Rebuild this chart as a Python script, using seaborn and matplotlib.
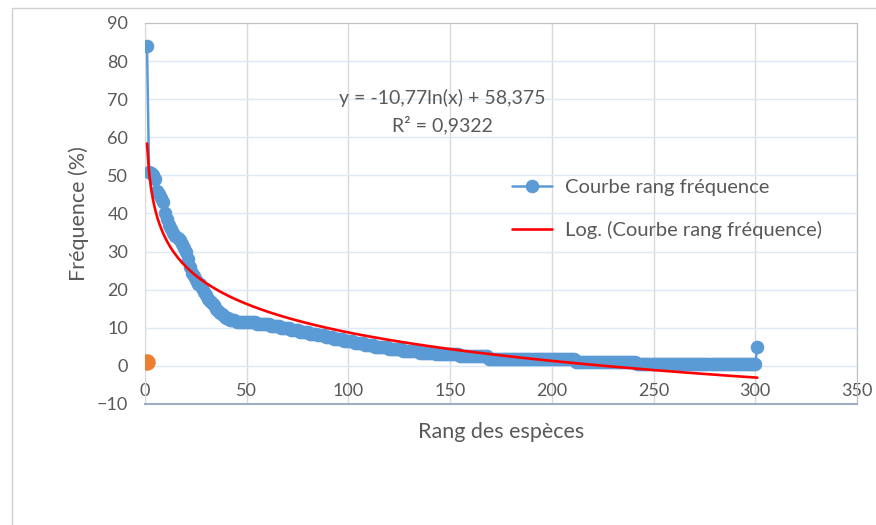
import numpy as np
import pandas as pd
import seaborn as sns
import matplotlib.pyplot as plt
from matplotlib.patches import Rectangle

# Frequency levels (run-length: value, number of species)
freq_levels = [84, 51, 50.5, 50, 49, 46, 45, 44, 43, 40,
               38.5, 37, 36, 35, 34, 33.5, 33, 32, 31, 30,
               28, 26, 24.5, 23.5, 22.5, 21.5, 20.5, 19.5, 18.5, 17.5,
               17, 16.5, 16, 15, 14.5, 14, 13.5, 13, 12.5, 12,
               11.5, 11, 10.5, 10, 9.5, 9, 8.5, 8, 7.5, 7,
               6.5, 6, 5.5, 5, 4.5, 4, 3.5, 3, 2.5, 1.8,
               1.1, 0.6, 5]
freq_counts = [1, 1, 1, 1, 1, 1, 1, 1, 1, 1,
               1, 1, 1, 1, 1, 1, 1, 1, 1, 1,
               1, 1, 1, 1, 1, 2, 1, 1, 1, 1,
               1, 1, 1, 1, 1, 1, 1, 1, 2, 3,
               10, 7, 5, 5, 4, 5, 4, 4, 4, 5,
               5, 5, 5, 7, 7, 8, 8, 12, 14, 43,
               30, 59, 1]

# second series: single orange point
extra_x = [1]
extra_y = [1]

# logarithmic trendline coefficients (as shown on the chart)
trend_a = -10.77
trend_b = 58.375
eq_text = "y = -10,77ln(x) + 58,375"
r2_text = "R² = 0,9322"

freqs = np.repeat(freq_levels, freq_counts)
df = pd.DataFrame({"rang": np.arange(1, len(freqs) + 1), "freq": freqs})
df["trend"] = trend_a * np.log(df["rang"]) + trend_b

sns.set_style("white")
plt.rcParams["font.family"] = ["Lato", "DejaVu Sans"]
grey = "#595959"

fig = plt.figure(figsize=(8.76, 5.25), dpi=100)
ax = fig.add_axes([0.1655, 0.2305, 0.8128, 0.7257])

sns.lineplot(data=df, x="rang", y="freq", ax=ax, color="#5B9BD5", lw=1.8,
             marker="o", markersize=9, markeredgecolor="#5B9BD5",
             label="Courbe rang fréquence", zorder=3)
sns.lineplot(data=df, x="rang", y="trend", ax=ax, color="#FF0000", lw=1.9,
             label="Log. (Courbe rang fréquence)", zorder=4)
sns.scatterplot(x=extra_x, y=extra_y, ax=ax, color="#ED7D31", s=120,
                edgecolor="#ED7D31", legend=False, zorder=5)

ax.set_xlim(0, 350)
ax.set_ylim(-10, 90)
ax.set_xticks(range(0, 351, 50))
ax.set_yticks(range(-10, 91, 10))
ax.yaxis.grid(True, color="#DCE9F6", lw=1)
ax.xaxis.grid(True, color="#D9D9D9", lw=1)
ax.set_axisbelow(True)
ax.tick_params(axis="both", length=0, labelsize=13, labelcolor=grey)
ax.tick_params(axis="x", pad=-15)
ax.tick_params(axis="y", pad=12)

for s in ["top", "right"]:
    ax.spines[s].set_color("#BFBFBF")
ax.spines["left"].set_color("#D9D9D9")
ax.spines["bottom"].set_color("#9DAEC4")
ax.spines["bottom"].set_linewidth(1.5)

ax.set_xlabel("Rang des espèces", fontsize=15.5, color=grey, labelpad=13)
ax.set_ylabel("Fréquence (%)", fontsize=15.5, color=grey, labelpad=6)

ax.text(0.4175, 0.803, eq_text, transform=ax.transAxes, ha="center",
        va="center", fontsize=14, color=grey)
ax.text(0.4175, 0.732, r2_text, transform=ax.transAxes, ha="center",
        va="center", fontsize=14, color=grey)

ax.legend(loc="upper left", bbox_to_anchor=(0.49, 0.638), frameon=False,
          fontsize=14.5, labelcolor=grey, handlelength=2.0,
          labelspacing=1.25, handletextpad=0.65)

# outer frame of the picture
fig.add_artist(Rectangle((12 / 876, -0.02), 1.0, 1 - 8 / 525 + 0.02,
                         transform=fig.transFigure, fill=False,
                         edgecolor="#D0D0D0", lw=1))

fig.savefig("out.png", dpi=100)
